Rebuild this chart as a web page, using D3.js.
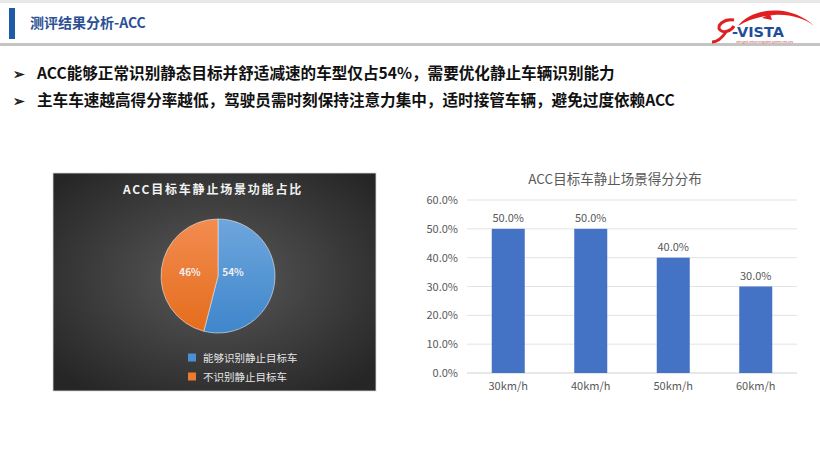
<!DOCTYPE html>
<html><head><meta charset="utf-8">
<script src="https://cdn.jsdelivr.net/npm/d3@7"></script>
<style>
html,body{margin:0;padding:0;background:#fff;}
svg{display:block;font-family:"Noto Sans CJK SC","Noto Sans",sans-serif;}
</style></head>
<body>
<svg id="c" width="820" height="460"></svg>
<script>
const headerTitle = "测评结果分析-ACC";
const bullets = [
  "ACC能够正常识别静态目标并舒适减速的车型仅占54%，需要优化静止车辆识别能力",
  "主车车速越高得分率越低，驾驶员需时刻保持注意力集中，适时接管车辆，避免过度依赖ACC"
];
const pieTitle = "ACC目标车静止场景功能占比";
const pieLabels = ["能够识别静止目标车", "不识别静止目标车"];
const pieValues = [54, 46];
const barTitle = "ACC目标车静止场景得分分布";
const barCategories = ["30km/h", "40km/h", "50km/h", "60km/h"];
const barValues = [0.50, 0.50, 0.40, 0.30];
const yTicks = [0, 0.1, 0.2, 0.3, 0.4, 0.5, 0.6];

const svg = d3.select("#c");
const defs = svg.append("defs");

// Header
svg.append("rect").attr("x",0).attr("y",0).attr("width",820).attr("height",3).attr("fill","#e8e8e8");
svg.append("rect").attr("x",0).attr("y",43).attr("width",820).attr("height",3).attr("fill","#c4c4c4");
svg.append("rect").attr("x",9).attr("y",8).attr("width",6).attr("height",31).attr("fill","#1f5aa6");
svg.append("text").attr("x",30).attr("y",28).attr("font-size",14).attr("font-weight","bold")
  .attr("fill","#2b4f94").text(headerTitle);

// Logo
const logo = svg.append("g").attr("transform","translate(708,4)");
logo.append("path").attr("d","M30,22 C40,8 62,4 80,8 C92,11 100,16 106,22 C96,14 82,10 66,11 C52,12 40,16 30,22 Z").attr("fill","#e02020");
logo.append("path").attr("d","M62,10 L54,14 L64,16 Z").attr("fill","#e02020");
logo.append("path").attr("d","M26,16 C16,14 8,22 12,26 C16,30 24,26 26,22 M18,28 C14,34 10,38 4,38").attr("fill","none").attr("stroke","#e02020").attr("stroke-width",3);
logo.append("text").attr("x",24).attr("y",33).attr("font-family","'DejaVu Sans',sans-serif").attr("font-weight","bold")
  .attr("font-size",14.5).attr("fill","#1f4f9a").text("-VISTA");
logo.append("text").attr("x",28).attr("y",38.5).attr("font-size",2.6).attr("fill","#d04040").text("Intelligent-Vehicle Integrated Systems Test Area");

// Bullets
bullets.forEach((b,i)=>{
  const y = 79 + i*27;
  svg.append("text").attr("x",13).attr("y",y).attr("font-size",14).attr("font-weight","bold").attr("fill","#222").text("➢");
  svg.append("text").attr("x",37).attr("y",y).attr("font-size",15.6).attr("font-weight","bold").attr("fill","#111").text(b);
});

// Pie panel
const rg = defs.append("radialGradient").attr("id","pbg").attr("cx","50%").attr("cy","48%").attr("r","65%");
rg.append("stop").attr("offset","0%").attr("stop-color","#5a5a5a");
rg.append("stop").attr("offset","100%").attr("stop-color","#262626");
const px=53, py=173, pw=323, ph=218;
svg.append("rect").attr("x",px).attr("y",py).attr("width",pw).attr("height",ph).attr("fill","url(#pbg)")
  .attr("stroke","#d9d9d9").attr("stroke-width",0.8);
svg.append("text").attr("x",213).attr("y",194).attr("text-anchor","middle").attr("font-size",12)
  .attr("font-weight","bold").attr("letter-spacing",1.8).attr("fill","#f2f2f2").text(pieTitle);

const gb = defs.append("linearGradient").attr("id","gblue").attr("x1",0).attr("y1",0).attr("x2",0).attr("y2",1);
gb.append("stop").attr("offset","0%").attr("stop-color","#6ea6dc");
gb.append("stop").attr("offset","100%").attr("stop-color","#3f86cc");
const go = defs.append("linearGradient").attr("id","gorange").attr("x1",0).attr("y1",0).attr("x2",0).attr("y2",1);
go.append("stop").attr("offset","0%").attr("stop-color","#f28c50");
go.append("stop").attr("offset","100%").attr("stop-color","#e56d1c");
const pieFills = ["url(#gblue)","url(#gorange)"];
const legendFills = ["#4a90d4","#ec7a30"];

const cx=218, cy=276, r=57;
const arcs = d3.pie().sort(null)(pieValues);
const arcGen = d3.arc().innerRadius(0).outerRadius(r);
const pg = svg.append("g").attr("transform",`translate(${cx},${cy})`);
pg.selectAll("path").data(arcs).enter().append("path").attr("d",arcGen)
  .attr("fill",(d,i)=>pieFills[i]).attr("stroke","#e8e8e8").attr("stroke-width",0.6);
pg.selectAll("text").data(arcs).enter().append("text")
  .attr("transform",(d,i)=> i===0 ? "translate(15,-4)" : "translate(-28,-4)")
  .attr("dy","0.35em").attr("text-anchor","middle").attr("font-size",10).attr("font-weight","bold")
  .attr("fill","#f0f0f0").text(d=>d.data+"%");

pieLabels.forEach((l,i)=>{
  const y = 358 + i*19;
  svg.append("rect").attr("x",188).attr("y",y-4.5).attr("width",8).attr("height",8).attr("fill",legendFills[i]);
  svg.append("text").attr("x",203).attr("y",y).attr("dy","0.35em").attr("font-size",10.5).attr("fill","#e6e6e6").text(l);
});

// Bar chart
const x0=467, x1=797, yTop=200, yBot=373;
const x = d3.scaleBand().domain(barCategories).range([x0,x1]).paddingInner(0.6).paddingOuter(0.3);
const y = d3.scaleLinear().domain([0,0.6]).range([yBot,yTop]);
svg.append("text").attr("x",615).attr("y",184).attr("text-anchor","middle").attr("font-size",13.5)
  .attr("fill","#595959").text(barTitle);
const bg = svg.append("g");
bg.selectAll("line.grid").data(yTicks).enter().append("line")
  .attr("x1",x0).attr("x2",x1).attr("y1",d=>y(d)).attr("y2",d=>y(d))
  .attr("stroke",d=>d===0?"#d0d0d0":"#e3e3e3").attr("stroke-width",1);
const yAxis = d3.axisLeft(y).tickValues(yTicks).tickFormat(d3.format(".1%")).tickSize(0).tickPadding(9);
const ya = svg.append("g").attr("transform",`translate(${x0},0)`).call(yAxis);
ya.select(".domain").remove();
ya.selectAll("text").attr("font-size",11).attr("fill","#595959").attr("font-family","'Noto Sans CJK SC',sans-serif");
const xAxis = d3.axisBottom(x).tickSize(0).tickPadding(9);
const xa = svg.append("g").attr("transform",`translate(0,${yBot})`).call(xAxis);
xa.select(".domain").remove();
xa.selectAll("text").attr("font-size",11).attr("fill","#595959").attr("font-family","'Noto Sans CJK SC',sans-serif");

bg.selectAll("rect.bar").data(barValues).enter().append("rect")
  .attr("x",(d,i)=>x(barCategories[i])).attr("width",x.bandwidth())
  .attr("y",d=>y(d)).attr("height",d=>yBot-y(d)).attr("fill","#4472c4");
bg.selectAll("text.val").data(barValues).enter().append("text")
  .attr("x",(d,i)=>x(barCategories[i])+x.bandwidth()/2).attr("y",d=>y(d)-7)
  .attr("text-anchor","middle").attr("font-size",11).attr("fill","#595959").text(d=>d3.format(".1%")(d));
</script>
</body></html>
